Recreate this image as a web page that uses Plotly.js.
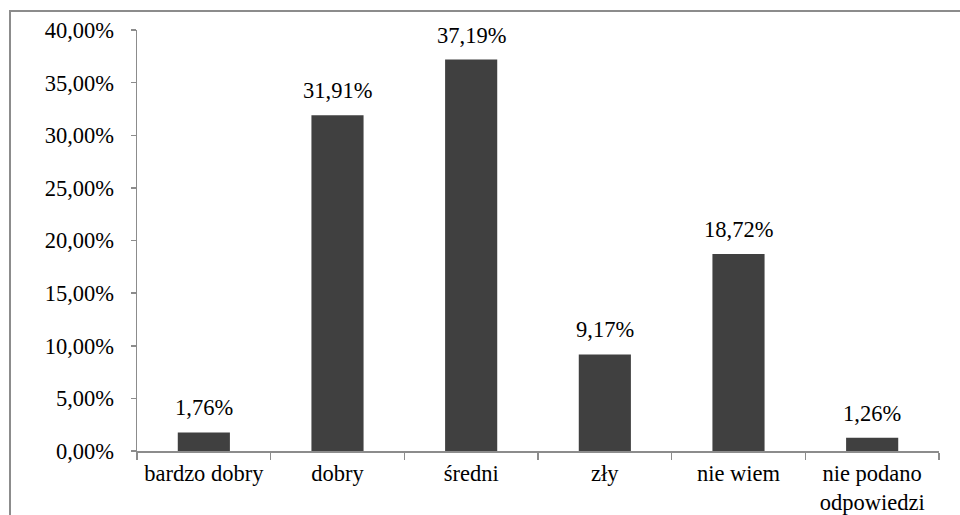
<!DOCTYPE html>
<html><head><meta charset="utf-8">
<script src="https://cdn.plot.ly/plotly-3.0.1.min.js"></script>
<style>
html,body{margin:0;padding:0;background:#fff;overflow:hidden;}
#frame{position:absolute;left:9px;top:10px;width:1000px;height:600px;border:2px solid #8c8c8c;box-sizing:border-box;pointer-events:none;z-index:5;}
#chart{position:absolute;left:0;top:0;width:960px;height:515px;}
</style></head>
<body>
<div id="chart"></div>
<div id="frame"></div>
<script>
const categories = ["bardzo dobry", "dobry", "średni", "zły", "nie wiem", "nie podano<br>odpowiedzi"];
const values = [1.76, 31.91, 37.19, 9.17, 18.72, 1.26];
const yTicks = [0, 5, 10, 15, 20, 25, 30, 35, 40];

const fmt = v => v.toFixed(2).replace(".", ",") + "%";
const font = {family: "Liberation Serif, Times New Roman, serif", size: 22.5, color: "#000"};

const annotations = categories.map((c, i) => ({
  x: c, y: values[i], xref: "x", yref: "y",
  text: fmt(values[i]), showarrow: false,
  yanchor: "bottom", yshift: 10, font: font
}));

Plotly.newPlot("chart", [{
  type: "bar",
  x: categories,
  y: values,
  marker: {color: "#404040"},
  width: 0.39,
  hoverinfo: "skip"
}], {
  width: 960, height: 515,
  margin: {l: 137, r: 21, t: 30, b: 64},
  paper_bgcolor: "#fff", plot_bgcolor: "#fff",
  font: font,
  showlegend: false,
  annotations: annotations,
  xaxis: {
    type: "category",
    showline: true, linecolor: "#8c8c8c", linewidth: 1.5,
    ticks: "outside", tickson: "boundaries", ticklen: 7, tickcolor: "#8c8c8c", tickwidth: 1.5,
    ticklabelstandoff: 1,
    tickfont: font, showgrid: false, zeroline: false
  },
  yaxis: {
    range: [0, 40], tickmode: "array", tickvals: yTicks, ticktext: yTicks.map(fmt),
    showline: true, linecolor: "#8c8c8c", linewidth: 1.5,
    ticks: "outside", ticklen: 5, tickcolor: "#8c8c8c", tickwidth: 1.5,
    ticklabelstandoff: 12,
    tickfont: font, showgrid: false, zeroline: false
  }
}, {staticPlot: true});
</script>
</body></html>
